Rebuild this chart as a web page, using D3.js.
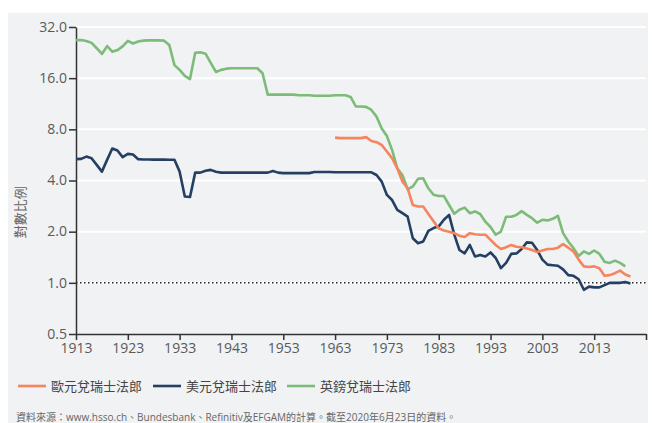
<!DOCTYPE html>
<html>
<head>
<meta charset="utf-8">
<script src="https://cdn.jsdelivr.net/npm/d3@7"></script>
<style>
  body { margin: 0; background: #fff; }
  text { font-family: "Open Sans", "Noto Sans CJK TC", sans-serif; }
</style>
</head>
<body>
<div id="chart"></div>
<script>
// 數據（從圖中讀取的估計值）
const usdYears = d3.range(1913, 2021);
const usdValues = [
  5.34, 5.36, 5.53, 5.41, 4.94, 4.51, 5.29, 6.17, 6.0, 5.49,
  5.74, 5.69, 5.34, 5.32, 5.32, 5.31, 5.31, 5.31, 5.3, 5.3,
  4.51, 3.22, 3.2, 4.45, 4.45, 4.56, 4.62, 4.5, 4.45, 4.45,
  4.45, 4.45, 4.45, 4.45, 4.45, 4.45, 4.45, 4.45, 4.55, 4.45,
  4.42, 4.42, 4.42, 4.42, 4.42, 4.42, 4.49, 4.49, 4.49, 4.49,
  4.47, 4.47, 4.47, 4.47, 4.47, 4.47, 4.47, 4.47, 4.31, 3.94,
  3.29, 3.07, 2.69, 2.57, 2.45, 1.83, 1.71, 1.75, 2.02, 2.1,
  2.15, 2.35, 2.51, 1.92, 1.56, 1.49, 1.67, 1.43, 1.46, 1.43,
  1.51, 1.40, 1.22, 1.31, 1.48, 1.49, 1.58, 1.73, 1.72, 1.56,
  1.37, 1.28, 1.27, 1.26, 1.2, 1.11, 1.1, 1.05, 0.91, 0.95,
  0.94, 0.94, 0.97, 1.0, 1.0, 1.0, 1.01, 0.99
];
const gbpYears = d3.range(1913, 2021);
const gbpValues = [
  26.8, 26.8, 26.5, 25.8, 24.0, 22.2, 24.7, 22.9, 23.4, 24.6,
  26.5, 25.6, 26.3, 26.6, 26.7, 26.7, 26.7, 26.6, 25.1, 19.1,
  17.9, 16.5, 15.8, 22.6, 22.7, 22.3, 19.7, 17.4, 17.9, 18.2,
  18.3, 18.3, 18.3, 18.3, 18.3, 18.3, 17.1, 12.8, 12.8, 12.8,
  12.8, 12.8, 12.8, 12.7, 12.7, 12.7, 12.6, 12.6, 12.6, 12.6,
  12.7, 12.7, 12.7, 12.4, 10.9, 10.9, 10.85, 10.4, 9.5, 8.1,
  7.3, 6.05, 4.72, 4.3, 3.55, 3.69, 4.09, 4.12, 3.6, 3.3,
  3.24, 3.24, 2.87, 2.55, 2.69, 2.77, 2.57, 2.63, 2.54, 2.29,
  2.13, 1.92, 2.0, 2.45, 2.45, 2.51, 2.64, 2.51, 2.40, 2.26,
  2.35, 2.33, 2.38, 2.48, 1.96, 1.75, 1.6, 1.44, 1.53, 1.48,
  1.55, 1.48, 1.33, 1.31, 1.35, 1.31, 1.25
];
const eurYears = d3.range(1963, 2021);
const eurValues = [
  7.15, 7.1, 7.1, 7.1, 7.1, 7.1, 7.2, 6.83, 6.72, 6.47,
  5.92, 5.41, 4.72, 3.94, 3.6, 2.87, 2.81, 2.81, 2.54, 2.3,
  2.09, 2.03, 2.0, 1.96, 1.89, 1.86, 1.96, 1.93, 1.92, 1.92,
  1.79, 1.67, 1.58, 1.62, 1.67, 1.63, 1.62, 1.59, 1.56, 1.52,
  1.55, 1.58, 1.58, 1.61, 1.69, 1.61, 1.53, 1.37, 1.25, 1.24,
  1.25, 1.22, 1.1, 1.11, 1.14, 1.18, 1.12, 1.09
];

const seriesNames = ["歐元兌瑞士法郎", "美元兌瑞士法郎", "英鎊兌瑞士法郎"];
const seriesColors = ["#f5845f", "#253f62", "#7dbb79"];
const yTicks = [0.5, 1, 2, 4, 8, 16, 32];
const xTicks = d3.range(1913, 2024, 10);

const width = 652, height = 423;
const margin = {top: 27, right: 6, bottom: 89, left: 76};

const svg = d3.select("#chart").append("svg")
  .attr("width", width)
  .attr("height", height);

// 灰色背景
svg.append("rect")
  .attr("x", 8).attr("y", 13)
  .attr("width", 640).attr("height", height - 13)
  .attr("fill", "#f0f2f4");

const x = d3.scaleLinear()
  .domain([1913, 2023])
  .range([margin.left, width - margin.right]);

const y = d3.scaleLog()
  .base(2)
  .domain([0.5, 32])
  .range([height - margin.bottom, margin.top]);

// 網格線
svg.append("g")
  .selectAll("line")
  .data(yTicks.filter(d => d > 0.5))
  .join("line")
  .attr("x1", x(1913)).attr("x2", x(2023))
  .attr("y1", d => y(d)).attr("y2", d => y(d))
  .attr("stroke", "#fff")
  .attr("stroke-width", 2);

// 1.0 的點線
svg.append("line")
  .attr("x1", x(1913)).attr("x2", x(2023))
  .attr("y1", y(1)).attr("y2", y(1))
  .attr("stroke", "#222")
  .attr("stroke-width", 1.5)
  .attr("stroke-dasharray", "1.5,2.5");

// 軸
const yAxis = svg.append("g")
  .attr("transform", `translate(${margin.left},0)`)
  .call(d3.axisLeft(y).tickValues(yTicks).tickFormat(d3.format(".1f")).tickSize(7).tickSizeOuter(0));

const xAxis = svg.append("g")
  .attr("transform", `translate(0,${y(0.5)})`)
  .call(d3.axisBottom(x).tickValues(xTicks).tickFormat(d => d < 2023 ? d : "").tickSize(6).tickSizeOuter(0));

[yAxis, xAxis].forEach(g => {
  g.select(".domain").attr("stroke", "#333").attr("stroke-width", 1.5);
  g.selectAll(".tick line").attr("stroke", "#333").attr("stroke-width", 1.5);
  g.selectAll(".tick text")
    .attr("fill", "#5a5a5a")
    .style("font-size", "14px");
});
yAxis.selectAll(".tick text").attr("x", -9).attr("dy", "0.3em");
xAxis.selectAll(".tick text").attr("y", 9);

// Y 軸標題
svg.append("text")
  .attr("transform", `translate(25,${y(2.6)}) rotate(-90)`)
  .attr("text-anchor", "middle")
  .attr("fill", "#666")
  .style("font-size", "13px")
  .style("font-family", "'Noto Sans CJK TC'")
  .text("對數比例");

const line = d3.line()
  .x(d => x(d[0]))
  .y(d => y(d[1]));

const allSeries = [
  d3.zip(eurYears, eurValues),
  d3.zip(usdYears, usdValues),
  d3.zip(gbpYears, gbpValues)
];

// 先畫綠、再畫藍、最後畫橙
[2, 1, 0].forEach(i => {
  svg.append("path")
    .datum(allSeries[i])
    .attr("fill", "none")
    .attr("stroke", seriesColors[i])
    .attr("stroke-width", 2.6)
    .attr("stroke-linejoin", "round")
    .attr("d", line);
});

// 圖例
const legendX = [18, 153, 287];
const legend = svg.append("g");
seriesNames.forEach((name, i) => {
  legend.append("line")
    .attr("x1", legendX[i]).attr("x2", legendX[i] + 28)
    .attr("y1", 386).attr("y2", 386)
    .attr("stroke", seriesColors[i])
    .attr("stroke-width", 2.6);
  legend.append("text")
    .attr("x", legendX[i] + 33)
    .attr("y", 391)
    .attr("fill", "#444")
    .style("font-size", "13px")
    .style("font-family", "'Noto Sans CJK TC'")
    .text(name);
});

// 資料來源
svg.append("text")
  .attr("x", 16)
  .attr("y", 421)
  .attr("fill", "#666")
  .style("font-size", "10px")
  .style("font-family", "'Open Sans', 'Noto Sans CJK TC'")
  .text("資料來源：www.hsso.ch、Bundesbank、Refinitiv及EFGAM的計算。截至2020年6月23日的資料。");
</script>
</body>
</html>
